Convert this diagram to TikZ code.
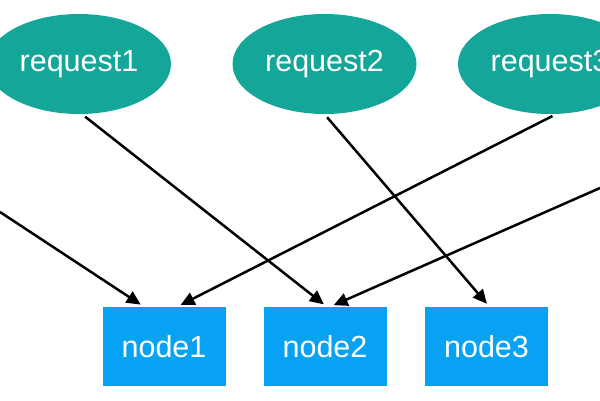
\documentclass[tikz,border=0pt]{standalone}
\usepackage{fontspec}
\setmainfont{Liberation Sans}
\usetikzlibrary{arrows.meta,shapes.geometric}
\definecolor{reqcol}{RGB}{20,166,152}
\definecolor{nodecol}{RGB}{8,162,245}
\tikzset{
  req/.style={ellipse,fill=reqcol,draw=none,minimum width=184pt,minimum height=100pt,inner sep=0pt,text=white,font=\fontsize{30.5}{30}\selectfont},
  srv/.style={rectangle,fill=nodecol,draw=none,minimum width=123pt,minimum height=79pt,inner sep=0pt,text=white,font=\fontsize{30.5}{30}\selectfont},
  conn/.style={line width=2.5pt,-{Triangle[length=14pt,width=13pt]},shorten >=4pt,shorten <=4pt}
}
\begin{document}
\begin{tikzpicture}[x=1pt,y=-1pt]
\useasboundingbox (0,0) rectangle (600,400);
\clip (0,0) rectangle (600,400);
\node[req] (r1) at (79,64) {request1};
\node[req] (r2) at (324.5,64) {request2};
\node[req] (r3) at (550,64) {request3};
\node[srv] (n1) at (164,346.5) {node1};
\node[srv] (n2) at (325,346.5) {node2};
\node[srv] (n3) at (486.5,346.5) {node3};
\coordinate (lin) at (0,212);
\coordinate (rin) at (600,188);
\draw[conn,shorten <=0pt] (lin) -- ([xshift=-20pt]n1.north);
\draw[conn] ([xshift=3pt]r1.south) -- ([xshift=2pt]n2.north);
\draw[conn] ([xshift=6pt]r3.south) -- ([xshift=13pt]n1.north);
\draw[conn] (r2.south) -- ([xshift=3pt]n3.north);
\draw[conn,shorten <=0pt] (rin) -- ([xshift=5pt]n2.north);
\end{tikzpicture}
\end{document}
